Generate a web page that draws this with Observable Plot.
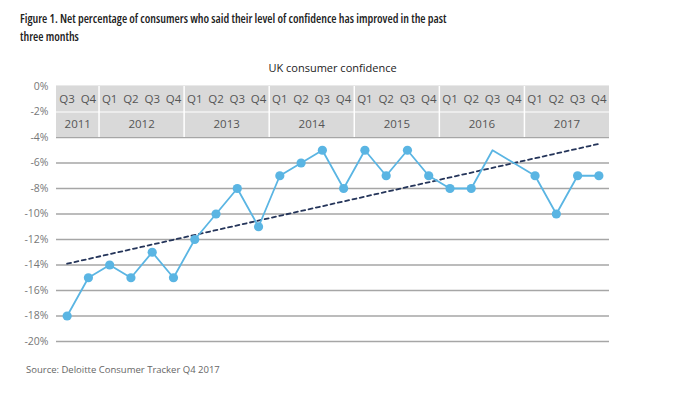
<!DOCTYPE html>
<html>
<head>
<meta charset="utf-8">
<script src="https://cdn.jsdelivr.net/npm/d3@7"></script>
<script src="https://cdn.jsdelivr.net/npm/@observablehq/plot@0.6"></script>
<style>
  body { margin: 0; background: #fff; font-family: "Open Sans", sans-serif; }
  #wrap { width: 680px; height: 398px; position: relative; }
  #title { padding: 10px 0 0 20px; font-family: "Open Sans", sans-serif; font-stretch: 80%; font-weight: 650; font-size: 12px; line-height: 18px; color: #222; width: 445px; }
  #subtitle { margin: 14px 0 0 56px; width: 553px; text-align: center; font-size: 11px; line-height: 16px; color: #222; }
  #caption { margin: 11px 0 0 26px; font-size: 9.5px; line-height: 16px; color: #666; }
  svg { display: block; }
</style>
</head>
<body>
<div id="wrap">
  <div id="title">Figure 1. Net percentage of consumers who said their level of confidence has improved in the past three months</div>
  <div id="subtitle">UK consumer confidence</div>
  <div id="chart"></div>
  <div id="caption">Source: Deloitte Consumer Tracker Q4 2017</div>
</div>
<script>
const quarters = ["Q3","Q4","Q1","Q2","Q3","Q4","Q1","Q2","Q3","Q4","Q1","Q2","Q3","Q4","Q1","Q2","Q3","Q4","Q1","Q2","Q3","Q4","Q1","Q2","Q3","Q4"];
const years    = ["2011","2011","2012","2012","2012","2012","2013","2013","2013","2013","2014","2014","2014","2014","2015","2015","2015","2015","2016","2016","2016","2016","2017","2017","2017","2017"];
const values   = [-18,-15,-14,-15,-13,-15,-12,-10,-8,-11,-7,-6,-5,-8,-5,-7,-5,-7,-8,-8,-5,null,-7,-10,-7,-7];
const unmarked = ["2016 Q3"];
const trendStart = -13.9;
const trendEnd = -4.5;
const yTicks = [0,-2,-4,-6,-8,-10,-12,-14,-16,-18,-20];

const data = quarters.map((q, i) => ({i, q, year: years[i], key: years[i] + " " + q, v: values[i]}));
const lineData = data.filter(d => d.v !== null);
const markData = lineData.filter(d => !unmarked.includes(d.key));
const n = data.length;
const trend = [{i: 0, v: trendStart}, {i: n - 1, v: trendEnd}];

const yearGroups = d3.groups(data, d => d.year).map(([year, rows]) => ({
  year, x: (rows[0].i + rows[rows.length - 1].i) / 2,
  start: rows[0].i - 0.5, end: rows[rows.length - 1].i + 0.5
}));
const boundaries = yearGroups.slice(1).map(g => g.start);

const chart = Plot.plot({
  width: 680,
  height: 275,
  marginTop: 10,
  marginBottom: 10,
  marginLeft: 56,
  marginRight: 71,
  style: {fontFamily: "Open Sans, sans-serif", fontSize: "11px", color: "#666", background: "transparent"},
  x: {domain: [-0.5, n - 0.5], axis: null},
  y: {domain: [-20, 0]},
  marks: [
    Plot.ruleY(yTicks, {stroke: "#a6a6a6", strokeWidth: 1.5}),
    Plot.rect([{x1: -0.5, x2: n - 0.5, y1: 0, y2: -4}], {x1: "x1", x2: "x2", y1: "y1", y2: "y2", fill: "#d9d9d9"}),
    Plot.ruleY([-2], {x1: -0.5, x2: n - 0.5, stroke: "#fff", strokeWidth: 1.2}),
    Plot.ruleX(boundaries, {y1: 0, y2: -4, stroke: "#fff", strokeWidth: 1.5}),
    Plot.text(data, {x: "i", y: -1, text: "q", fill: "#555", fontSize: 11.5}),
    Plot.text(yearGroups, {x: "x", y: -3, text: "year", fill: "#555", fontSize: 11.5}),
    Plot.axisY({ticks: yTicks, tickSize: 0, tickPadding: 8, tickFormat: d => d + "%", label: null, fill: "#777", fontSize: 10.5}),
    Plot.line(trend, {x: "i", y: "v", stroke: "#25355a", strokeWidth: 1.8, strokeDasharray: "4,3.5"}),
    Plot.line(lineData, {x: "i", y: "v", stroke: "#5ab5e3", strokeWidth: 1.8}),
    Plot.dot(markData, {x: "i", y: "v", r: 4.6, fill: "#5ab5e3", stroke: "none"})
  ]
});
document.getElementById("chart").appendChild(chart);
</script>
</body>
</html>
